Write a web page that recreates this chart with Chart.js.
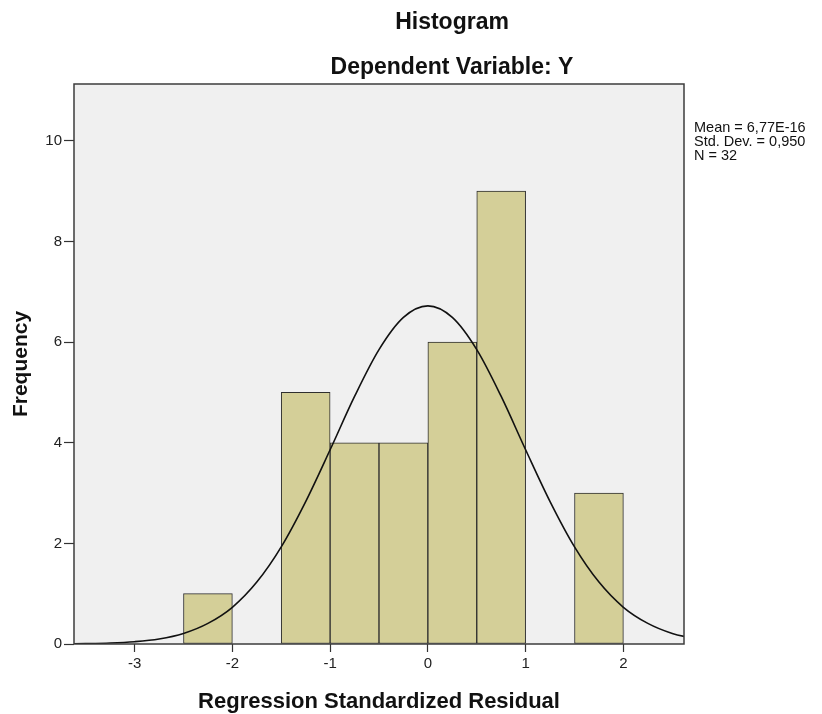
<!DOCTYPE html>
<html>
<head>
<meta charset="utf-8">
<script src="https://cdn.jsdelivr.net/npm/chart.js@4.4.1/dist/chart.umd.min.js"></script>
<style>
  html, body { margin: 0; padding: 0; background: #fff; }
</style>
</head>
<body>
<canvas id="histChart" width="822" height="714"></canvas>
<script>
// histogram bins (width 0.5) and counts
const binCenters = [-2.25, -1.25, -0.75, -0.25, 0.25, 0.75, 1.75];
const frequencies = [1, 5, 4, 4, 6, 9, 3];

// normal curve
const curveX = [-3.75, -3.5, -3.25, -3, -2.75, -2.5, -2.25, -2, -1.75, -1.5, -1.25, -1, -0.75, -0.5, -0.25,
  0, 0.25, 0.5, 0.75, 1, 1.25, 1.5, 1.75, 2, 2.25, 2.5, 2.75];
const curveY = [0.003, 0.008, 0.019, 0.046, 0.10, 0.21, 0.41, 0.73, 1.23, 1.93, 2.83, 3.86, 4.92, 5.85, 6.49,
  6.72, 6.49, 5.85, 4.92, 3.86, 2.83, 1.93, 1.23, 0.73, 0.41, 0.21, 0.10];

const xTicks = [-3, -2, -1, 0, 1, 2];
const yTicks = [0, 2, 4, 6, 8, 10];

const chartTitle = 'Histogram';
const chartSubtitle = 'Dependent Variable: Y';
const statsLines = ['Mean = 6,77E-16', 'Std. Dev. = 0,950', 'N = 32'];

const FONT = '"Liberation Sans", Arial, sans-serif';

// background, frame and the text SPSS puts around the plot
const spssFrame = {
  id: 'spssFrame',
  beforeDraw(chart) {
    const { ctx, chartArea: a } = chart;
    ctx.save();
    ctx.fillStyle = '#f0f0f0';
    ctx.fillRect(a.left, a.top, a.right - a.left, a.bottom - a.top);
    ctx.restore();
  },
  afterDraw(chart) {
    const { ctx, chartArea: a } = chart;
    ctx.save();
    ctx.strokeStyle = '#3c3c3c';
    ctx.lineWidth = 1.5;
    ctx.strokeRect(a.left, a.top, a.right - a.left, a.bottom - a.top);

    ctx.fillStyle = '#111';
    ctx.textAlign = 'center';
    ctx.textBaseline = 'alphabetic';
    ctx.font = 'bold 23px ' + FONT;
    ctx.fillText(chartTitle, 452, 29);
    ctx.fillText(chartSubtitle, 452, 74);

    ctx.textAlign = 'left';
    ctx.font = '14.5px ' + FONT;
    statsLines.forEach((t, i) => ctx.fillText(t, a.right + 10, 131.5 + i * 14));
    ctx.restore();
  }
};

const ctx = document.getElementById('histChart').getContext('2d');
const histChart = new Chart(ctx, {
  data: {
    datasets: [
      {
        type: 'line',
        data: curveX.map((x, i) => ({ x: x, y: curveY[i] })),
        borderColor: '#111',
        borderWidth: 1.6,
        pointRadius: 0,
        cubicInterpolationMode: 'monotone',
        order: 0
      },
      {
        type: 'bar',
        data: binCenters.map((x, i) => ({ x: x, y: frequencies[i] })),
        backgroundColor: '#d4cf98',
        borderColor: '#2e2e2e',
        borderWidth: 1,
        borderSkipped: false,
        barPercentage: 1,
        categoryPercentage: 1,
        order: 1
      }
    ]
  },
  options: {
    responsive: false,
    animation: false,
    layout: { padding: { top: 84, right: 138, left: 0, bottom: 0 } },
    plugins: {
      legend: { display: false },
      tooltip: { enabled: false }
    },
    scales: {
      x: {
        type: 'linear',
        offset: false,
        min: -3.62,
        max: 2.62,
        afterBuildTicks: (scale) => { scale.ticks = xTicks.map(v => ({ value: v })); },
        afterFit: (scale) => { scale.height = 70; },
        grid: { offset: false, drawOnChartArea: false, drawTicks: true, tickLength: 8, tickColor: '#333', tickWidth: 1.2 },
        border: { display: false },
        ticks: { color: '#222', padding: 3, maxRotation: 0, font: { family: FONT, size: 15 } },
        title: {
          display: true,
          text: 'Regression Standardized Residual',
          color: '#111',
          font: { family: FONT, size: 22, weight: 'bold', lineHeight: 1 },
          padding: { top: 0, bottom: 1 }
        }
      },
      y: {
        type: 'linear',
        min: 0,
        max: 11.13,
        afterBuildTicks: (scale) => { scale.ticks = yTicks.map(v => ({ value: v })); },
        afterFit: (scale) => { scale.width = 74; },
        grid: { drawOnChartArea: false, drawTicks: true, tickLength: 10, tickColor: '#333', tickWidth: 1.2 },
        border: { display: false },
        ticks: { color: '#222', padding: 2, font: { family: FONT, size: 15 } },
        title: {
          display: true,
          text: 'Frequency',
          color: '#111',
          font: { family: FONT, size: 21, weight: 'bold', lineHeight: 1.2 },
          padding: { top: 9, bottom: 0 }
        }
      }
    }
  },
  plugins: [spssFrame]
});
</script>
</body>
</html>
